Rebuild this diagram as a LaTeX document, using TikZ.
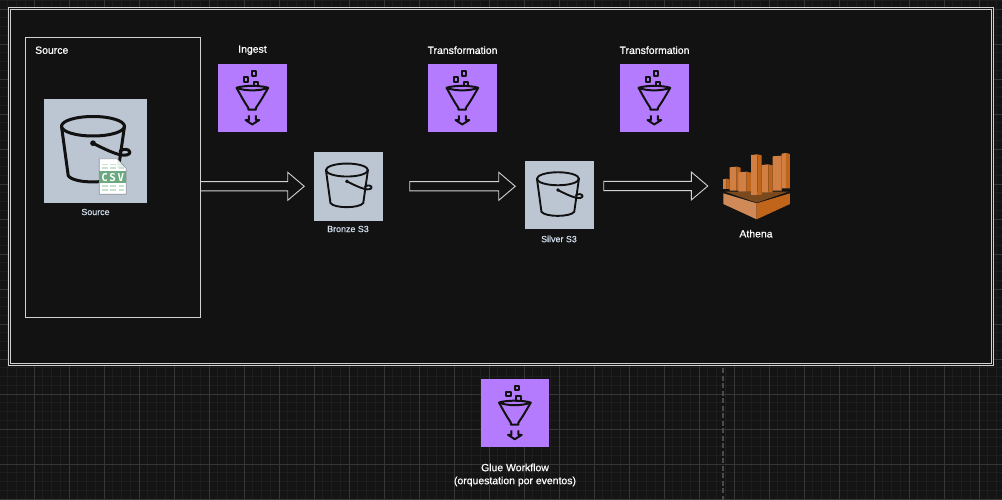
\documentclass[tikz,border=0pt]{standalone}
\usepackage{fontspec}
\setmainfont{Liberation Sans}
\newfontfamily\csvfont[LetterSpace=14]{DejaVu Sans Mono Bold}
\newfontfamily\semifont[FakeBold=0.7]{Liberation Sans}
\usetikzlibrary{calc}
\definecolor{bgc}{HTML}{141414}
\definecolor{panel}{HTML}{121212}
\definecolor{gridmin}{HTML}{1E1E1E}
\definecolor{gridmaj}{HTML}{363636}
\definecolor{dashc}{HTML}{4A4A4A}
\definecolor{framec}{HTML}{D2D2D2}
\definecolor{fpurple}{HTML}{B57BFF}
\definecolor{bucketbg}{HTML}{BCC6D3}
\definecolor{labelc}{HTML}{CFDCEA}
\definecolor{csvg}{HTML}{6BAA80}
\definecolor{csvl}{HTML}{C9E2D0}
\definecolor{aB}{HTML}{D08A58}
\definecolor{aL}{HTML}{D17F43}
\definecolor{aD}{HTML}{C0651A}
\definecolor{aT}{HTML}{7A4A1E}
\definecolor{ink}{HTML}{111111}
\tikzset{
  x=1pt,y=-1pt,
  iconbox/.style={minimum width=68.5pt,minimum height=68.5pt,inner sep=0pt,outer sep=0pt},
  funnelbox/.style={iconbox,fill=fpurple},
  bucketbox/.style={iconbox,fill=bucketbg},
  headtext/.style={text=white,inner sep=0pt,font=\semifont\fontsize{10.45}{13}\selectfont},
  smalltext/.style={text=labelc,inner sep=0pt,font=\semifont\fontsize{8.9}{10}\selectfont},
  flowarrow/.style={draw=framec,line width=0.9pt,fill=panel},
  framebox/.style={draw=framec,line width=.9pt,inner sep=0pt,outer sep=0pt},
  pics/funnel/.style={code={
    \begin{scope}[draw=ink,line width=2pt,line join=round]
      \draw (25.6,13.6) rectangle (29.8,17.8);
      \draw (33.9,7.6) rectangle (38.1,11.8);
      \draw (35.6,17.9) rectangle (39.8,22.1);
      \draw (18.3,24) .. controls (26,27.5) and (42,27.5) .. (50,24) .. controls (42,21.5) and (26,21.5) .. (18.3,24) -- cycle;
      \draw (18.3,24) .. controls (22,31) and (26,38) .. (30,44) -- (30,46) -- (37.7,46) -- (37.7,44) .. controls (42,38) and (46,31) .. (50,24);
      \draw (30.7,51.7) -- (30.7,56.3) -- (27.3,56.3) -- (34,60.7) -- (41,56.3) -- (37.7,56.3) -- (37.7,51.7);
    \end{scope}}},
  pics/bucket/.style={code={
    \begin{scope}[draw=ink,line join=round,line cap=round]
      \draw (32.7,18) ellipse [x radius=21,y radius=6.5];
      \draw (11.7,18) -- (16.2,51) .. controls (20,56.5) and (45,56.5) .. (49,51) -- (53.7,18);
      \fill[ink] (32.7,29.3) circle [radius=1.9];
      \draw (32.7,29.3) .. controls (39,32.5) and (45,35.5) .. (50,36.8) .. controls (54,38) and (57.6,37) .. (57.3,35.2) .. controls (57,33) and (52.5,32.8) .. (50.7,34.6);
    \end{scope}}},
  pics/csvdoc/.style={code={
    \fill[white] (0,0) -- (18,0) -- (27,9.3) -- (27,35.3) -- (0,35.3) -- cycle;
    \fill[csvl!50!white] (18,0) -- (18,9.3) -- (27,9.3) -- cycle;
    \draw[bucketbg!75!black,line width=.6pt] (0,0) -- (18,0) -- (27,9.3) -- (27,35.3) -- (0,35.3) -- cycle;
    \foreach \yy in {4.7,8.2}{\fill[csvl] (3,\yy) rectangle (9,\yy+1.8); \fill[csvl] (11,\yy) rectangle (17,\yy+1.8);}
    \fill[csvl] (19.5,8.2) rectangle (25,10);
    \foreach \yy in {26.3,29.8}{\fill[csvl] (3,\yy) rectangle (9,\yy+1.8); \fill[csvl] (11,\yy) rectangle (17,\yy+1.8); \fill[csvl] (19.5,\yy) rectangle (25,\yy+1.8);}
    \fill[csvg] (0,12.3) rectangle (27,24.5);
  }},
}
\newcommand{\blockarrow}[2]{%
  \draw[flowarrow] let \p1=(#1),\p2=(#2) in
    (\x1,\y1-4.6pt) -- (\x2-16.5pt,\y1-4.6pt) -- (\x2-16.5pt,\y1-14pt) -- (\x2,\y1)
    -- (\x2-16.5pt,\y1+14pt) -- (\x2-16.5pt,\y1+4.6pt) -- (\x1,\y1+4.6pt) -- cycle;}
\begin{document}
\begin{tikzpicture}
\useasboundingbox (0,0) rectangle (1002,500);
\fill[bgc] (0,0) rectangle (1002,500);
% grid
\foreach \i in {0,...,115}{\draw[gridmin,line width=.8pt] (-1+8.75*\i,0) -- (-1+8.75*\i,500);}
\foreach \i in {0,...,58}{\draw[gridmin,line width=.8pt] (0,0.25+8.75*\i) -- (1002,0.25+8.75*\i);}
\foreach \i in {0,...,29}{\draw[gridmaj,line width=.8pt] (-1+35*\i,0) -- (-1+35*\i,500);}
\foreach \i in {0,...,14}{\draw[gridmaj,line width=.8pt] (0,9+35*\i) -- (1002,9+35*\i);}
\draw[dashc,line width=1.6pt,dash pattern=on 5pt off 2.5pt] (722.7,368) -- (722.7,500);
% frame
\node[framebox,fill=panel,minimum width=985pt,minimum height=358pt] (outer) at (500.5,186) {};
\node[framebox,minimum width=981pt,minimum height=354pt] (inner) at (500.5,186) {};
\node[framebox,minimum width=175pt,minimum height=280pt] (srcbox) at (113,177.5) {};
% icons
\node[bucketbox,minimum width=103.5pt,minimum height=103.5pt] (source) at (95.7,151) {};
\node[funnelbox] (ingest) at (252.5,98) {};
\node[funnelbox] (trans1) at (462.5,98) {};
\node[funnelbox] (trans2) at (654.5,98) {};
\node[funnelbox] (glue) at (515,412.8) {};
\node[bucketbox] (bronze) at (348.5,186.3) {};
\node[bucketbox] (silver) at (559.5,195) {};
\pic[line width=3pt,scale=1.5] at (source.north west) {bucket};
\pic[line width=1.9pt] at (bronze.north west) {bucket};
\pic[line width=1.9pt] at (silver.north west) {bucket};
\pic at (ingest.north west) {funnel};
\pic at (trans1.north west) {funnel};
\pic at (trans2.north west) {funnel};
\pic at (glue.north west) {funnel};
\pic at ($(source.north west)+(55.3,59.7)$) {csvdoc};
\node[inner sep=0pt,text=white,font=\csvfont\fontsize{10.8}{12}\selectfont] (csvtxt) at ($(source.north west)+(68.8,78)$) {CSV};
% athena
\begin{scope}[shift={(700,140)},x=0.3333pt,y=-0.3333pt]
  \fill[aT] (75,155) -- (265,155) -- (170,188) -- cycle;
  \fill[aB] (70,160) -- (170,190) -- (170,238) -- (70,192) -- cycle;
  \fill[aD] (170,190) -- (270,160) -- (270,192) -- (170,238) -- cycle;
  \foreach \a/\b/\c/\t/\u in {69/80/89/116/147,89/110/122/80/152,115/140/153/95/155,153/172/185/43/165,185/205/218/73/157,218/245/246/47/152,245/258/270/39/145}{
    \fill[aL] (\a,\t+2) -- (\b,\t) -- (\b,\u) -- (\a,\u) -- cycle;
    \fill[aD] (\b,\t) -- (\c,\t+3) -- (\c,\u) -- (\b,\u) -- cycle;
  }
\end{scope}
\node[inner sep=0pt,minimum width=68pt,minimum height=68pt] (athena) at (756.5,184) {};
% arrows
\coordinate (a1s) at (srcbox.east |- bronze.west);
\coordinate (a1e) at ($(bronze.west)+(-10,0)$);
\coordinate (a2s) at ($(bronze.east)+(27,0)$);
\coordinate (a2e) at ($(silver.west)+(-10,-9)$);
\coordinate (a3s) at ($(silver.east)+(10,-9)$);
\coordinate (a3e) at ($(athena.west)+(-14.5,2)$);
\blockarrow{a1s}{a1e}
\blockarrow{a2s}{a2e}
\blockarrow{a3s}{a3e}
% labels
\node[headtext,anchor=west] (lsrcbox) at (35,50.2) {Source};
\node[headtext] (lingest) at (252.5,50.2) {Ingest};
\node[headtext] (ltrans1) at (462.5,50.2) {Transformation};
\node[headtext] (ltrans2) at (654.5,50.2) {Transformation};
\node[headtext] (lathena) at (756,233.7) {Athena};
\node[smalltext] (lsource) at (95.5,212) {Source};
\node[smalltext] (lbronze) at (348,229) {Bronze S3};
\node[smalltext] (lsilver) at (559,239) {Silver S3};
\node[headtext,align=center] (lglue) at (515,475) {Glue Workflow\\(orquestation por eventos)};
\end{tikzpicture}
\end{document}
